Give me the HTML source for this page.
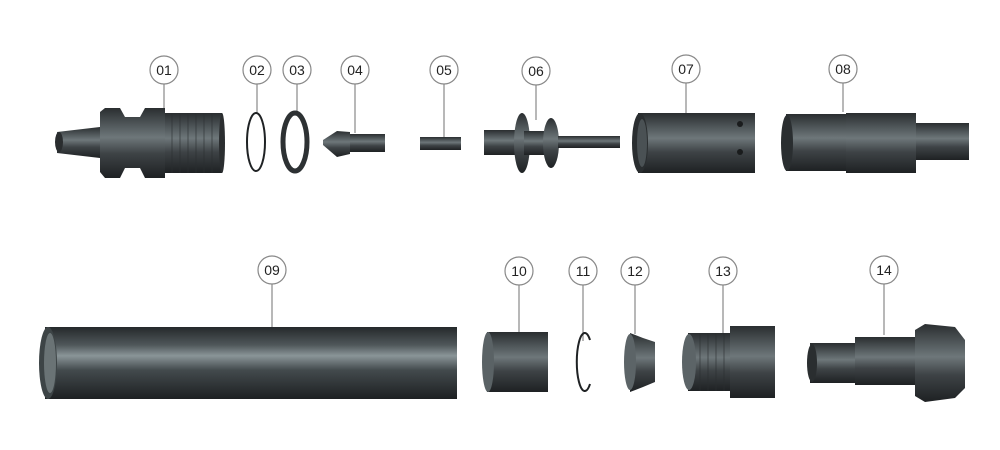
<!DOCTYPE html>
<html><head><meta charset="utf-8"><style>
html,body{margin:0;padding:0;background:#fff;}
svg{display:block}
text{font-family:"Liberation Sans",sans-serif;font-size:14px;fill:#222;text-anchor:middle}
</style></head><body>
<svg width="1000" height="450" viewBox="0 0 1000 450" xmlns="http://www.w3.org/2000/svg">
<defs>
<linearGradient id="g" x1="0" y1="0" x2="0" y2="1">
<stop offset="0" stop-color="#2a2e30"/><stop offset="0.3" stop-color="#5a6265"/>
<stop offset="0.42" stop-color="#6e777a"/><stop offset="0.65" stop-color="#3e4346"/>
<stop offset="1" stop-color="#1e2123"/></linearGradient>
<linearGradient id="t" x1="0" y1="0" x2="0" y2="1">
<stop offset="0" stop-color="#25292b"/><stop offset="0.25" stop-color="#4f575a"/>
<stop offset="0.4" stop-color="#8a9598"/><stop offset="0.6" stop-color="#434a4d"/>
<stop offset="1" stop-color="#1d2022"/></linearGradient>
</defs>
<g stroke="#888" stroke-width="1.2" fill="#fff">
<line x1="164" y1="84" x2="164" y2="125"/><line x1="257" y1="84" x2="257" y2="113"/>
<line x1="297" y1="84" x2="297" y2="113"/><line x1="355" y1="84" x2="355" y2="133"/>
<line x1="444" y1="84" x2="444" y2="138"/><line x1="536" y1="85" x2="536" y2="120"/>
<line x1="686" y1="83" x2="686" y2="113"/><line x1="843" y1="83" x2="843" y2="112"/>
<line x1="272" y1="284" x2="272" y2="340"/><line x1="519" y1="285" x2="519" y2="333"/>
<line x1="583" y1="285" x2="583" y2="341"/><line x1="635" y1="285" x2="635" y2="334"/>
<line x1="723" y1="285" x2="723" y2="337"/><line x1="884" y1="284" x2="884" y2="335"/>
<circle cx="164" cy="70" r="14"/><circle cx="257" cy="70" r="14"/><circle cx="297" cy="70" r="14"/>
<circle cx="355" cy="70" r="14"/><circle cx="444" cy="70" r="14"/><circle cx="536" cy="71" r="14"/>
<circle cx="686" cy="69" r="14"/><circle cx="843" cy="69" r="14"/>
<circle cx="272" cy="270" r="14"/><circle cx="519" cy="271" r="14"/><circle cx="583" cy="271" r="14"/>
<circle cx="635" cy="271" r="14"/><circle cx="723" cy="271" r="14"/><circle cx="884" cy="270" r="14"/>
</g>
<g>
<text x="164" y="75">01</text><text x="257" y="75">02</text><text x="297" y="75">03</text>
<text x="355" y="75">04</text><text x="444" y="75">05</text><text x="536" y="76">06</text>
<text x="686" y="74">07</text><text x="843" y="74">08</text>
<text x="272" y="275">09</text><text x="519" y="276">10</text><text x="583" y="276">11</text>
<text x="635" y="276">12</text><text x="723" y="276">13</text><text x="884" y="275">14</text>
</g>
<g fill="url(#g)">
<path d="M57 132 L100 127 L100 158 L57 153 Z"/>
<ellipse cx="59" cy="142" rx="4" ry="10" fill="#2a2d2f"/>
<path d="M100 112 L105 108 L120 108 L125 117 L140 117 L145 108 L165 108 L165 178 L145 178 L140 168 L125 168 L120 178 L105 178 L100 172 Z"/>
<rect x="165" y="113" width="57" height="60"/>
<g stroke="#2a2e30" stroke-width="1" opacity="0.6">
<line x1="172" y1="113" x2="172" y2="173"/><line x1="180" y1="113" x2="180" y2="173"/><line x1="188" y1="113" x2="188" y2="173"/><line x1="196" y1="113" x2="196" y2="173"/><line x1="204" y1="113" x2="204" y2="173"/><line x1="212" y1="113" x2="212" y2="173"/></g>
<ellipse cx="222" cy="143" rx="3" ry="30" fill="#2b2e30"/>
<ellipse cx="256" cy="142" rx="9" ry="29" fill="none" stroke="#1f2224" stroke-width="2"/>
<ellipse cx="295" cy="142" rx="12" ry="29" fill="none" stroke="#2d3133" stroke-width="5"/>
<path d="M350 132 L337 131 L323 140 L323 145 L337 157 L350 154 Z"/>
<rect x="350" y="134" width="35" height="18"/>
<rect x="420" y="137" width="41" height="13"/>
<rect x="484" y="130" width="36" height="25"/>
<ellipse cx="522" cy="143" rx="8" ry="30"/>
<rect x="524" y="131" width="24" height="24"/>
<ellipse cx="551" cy="143" rx="8" ry="25"/>
<rect x="558" y="136" width="62" height="12"/>
<rect x="638" y="113" width="117" height="60"/>
<ellipse cx="640" cy="143" rx="8" ry="30" fill="#2a2e30"/>
<ellipse cx="642" cy="143" rx="5" ry="24" fill="#4a5154"/>
<circle cx="740" cy="124" r="3" fill="#1a1c1d"/><circle cx="740" cy="152" r="3" fill="#1a1c1d"/>
<rect x="786" y="114" width="60" height="57"/>
<rect x="846" y="113" width="70" height="60"/>
<rect x="916" y="123" width="53" height="37"/>
<ellipse cx="787" cy="143" rx="6" ry="28" fill="#2a2e30"/>
</g>
<g fill="url(#t)">
<rect x="45" y="327" width="412" height="72"/>
<ellipse cx="48" cy="363" rx="9" ry="36" fill="#3d4446"/>
<ellipse cx="50" cy="363" rx="6" ry="30" fill="#6a7375"/>
</g>
<g fill="url(#g)">
<rect x="487" y="332" width="61" height="60"/>
<ellipse cx="488" cy="362" rx="6" ry="30" fill="#5a6265"/>
<path d="M590 340 A8 29 0 1 0 590 384" fill="none" stroke="#1f2224" stroke-width="2"/>
<path d="M630 333 L643 338 L655 342 L655 382 L643 387 L630 392 Z"/>
<ellipse cx="630" cy="362" rx="6" ry="28" fill="#5c6467"/>
<rect x="688" y="333" width="45" height="58"/>
<g stroke="#2a2e30" stroke-width="1" opacity="0.6">
<line x1="700" y1="333" x2="700" y2="391"/><line x1="708" y1="333" x2="708" y2="391"/><line x1="716" y1="333" x2="716" y2="391"/><line x1="724" y1="333" x2="724" y2="391"/></g>
<rect x="730" y="326" width="45" height="72"/>
<ellipse cx="689" cy="362" rx="7" ry="28" fill="#5c6467"/>
<rect x="810" y="343" width="47" height="40"/>
<ellipse cx="812" cy="363" rx="5" ry="19" fill="#2a2e30"/>
<rect x="855" y="337" width="62" height="48"/>
<path d="M915 330 L925 324 L955 327 L965 340 L965 388 L955 398 L925 402 L915 396 Z"/>
</g>
</svg>
</body></html>
